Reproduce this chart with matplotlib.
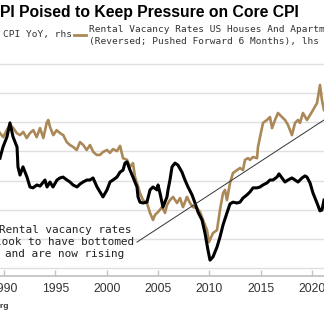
import matplotlib
matplotlib.use("Agg")
import matplotlib.pyplot as plt

# Rental vacancy rate, % (reversed, pushed forward 6 months) -- left axis
vac_years = [1989.61, 1989.93, 1990.26, 1990.59, 1990.91, 1991.24, 1991.56, 1991.88,
             1992.21, 1992.53, 1992.85, 1993.18, 1993.51, 1993.83, 1994.16, 1994.31,
             1994.48, 1994.80, 1995.13, 1995.45, 1995.77, 1996.11, 1996.43, 1996.75,
             1997.08, 1997.40, 1997.72, 1998.05, 1998.37, 1998.70, 1999.03, 1999.35,
             1999.64, 2000.03, 2000.32, 2000.61, 2001.00, 2001.30, 2001.59, 2001.98,
             2002.27, 2002.56, 2002.76, 2002.95, 2003.24, 2003.54, 2003.92, 2004.22,
             2004.51, 2004.70, 2005.00, 2005.39, 2005.68, 2005.87, 2006.16, 2006.46,
             2006.85, 2007.14, 2007.43, 2007.82, 2008.11, 2008.40, 2008.79, 2009.09,
             2009.38, 2009.77, 2009.96, 2010.35, 2010.74, 2011.03, 2011.33, 2011.52,
             2011.71, 2012.01, 2012.30, 2012.69, 2012.98, 2013.27, 2013.47, 2013.76,
             2013.95, 2014.25, 2014.64, 2014.73, 2014.93, 2015.22, 2015.61, 2015.90,
             2016.10, 2016.39, 2016.68, 2017.07, 2017.36, 2017.65, 2018.04, 2018.34,
             2018.63, 2018.82, 2019.11, 2019.50, 2019.80, 2020.09, 2020.48, 2020.77,
             2020.96, 2021.16]
vac_rate = [7.37, 7.51, 7.27, 7.09, 7.20, 7.37, 7.44, 7.33,
            7.54, 7.37, 7.27, 7.51, 7.20, 7.54, 7.02, 6.92,
            7.16, 7.44, 7.27, 7.37, 7.44, 7.68, 7.78, 7.85,
            7.95, 7.68, 7.78, 7.95, 7.78, 8.02, 8.12, 8.12,
            8.02, 7.95, 8.05, 7.92, 7.99, 7.81, 8.23, 8.29,
            8.53, 8.40, 8.88, 9.08, 9.43, 9.67, 9.77, 10.11,
            10.35, 10.18, 10.08, 9.91, 10.11, 9.84, 9.67, 9.56,
            9.77, 9.60, 9.91, 9.56, 9.77, 9.91, 9.94, 10.08,
            10.35, 10.70, 11.11, 10.80, 10.70, 10.01, 9.43, 9.32,
            9.67, 9.08, 8.74, 8.64, 8.57, 8.64, 8.29, 8.23,
            8.29, 8.19, 8.23, 7.85, 7.51, 7.02, 6.92, 6.82,
            7.20, 6.92, 6.68, 6.82, 6.92, 7.09, 7.44, 7.02,
            6.92, 7.02, 6.68, 6.92, 6.75, 6.58, 6.34, 5.72,
            6.24, 6.58]

# CPI year-over-year, % -- right axis
cpi_years = [1989.61, 1989.90, 1990.29, 1990.58, 1990.88, 1991.27, 1991.36, 1991.56,
             1991.85, 1992.24, 1992.53, 1992.82, 1993.21, 1993.51, 1993.99, 1994.19,
             1994.48, 1994.77, 1995.16, 1995.45, 1995.75, 1996.13, 1996.43, 1996.72,
             1997.11, 1997.40, 1997.69, 1998.08, 1998.37, 1998.67, 1999.06, 1999.35,
             1999.64, 2000.03, 2000.32, 2000.61, 2001.00, 2001.30, 2001.59, 2001.78,
             2001.98, 2002.27, 2002.56, 2002.95, 2003.05, 2003.24, 2003.54, 2003.92,
             2004.22, 2004.51, 2004.90, 2005.00, 2005.19, 2005.48, 2005.87, 2005.97,
             2006.16, 2006.36, 2006.65, 2006.94, 2007.33, 2007.62, 2007.92, 2008.31,
             2008.60, 2008.89, 2009.28, 2009.57, 2009.86, 2010.06, 2010.35, 2010.74,
             2011.03, 2011.33, 2011.71, 2012.01, 2012.30, 2012.69, 2012.98, 2013.27,
             2013.66, 2013.95, 2014.25, 2014.64, 2014.93, 2015.22, 2015.61, 2015.90,
             2016.19, 2016.58, 2016.78, 2017.07, 2017.36, 2017.65, 2018.04, 2018.34,
             2018.63, 2019.02, 2019.31, 2019.50, 2019.80, 2020.09, 2020.48, 2020.77,
             2020.96, 2021.16]
cpi_yoy = [3.77, 4.15, 4.50, 4.98, 4.50, 4.15, 3.47, 3.19,
           3.47, 3.12, 2.78, 2.75, 2.85, 2.81, 3.02, 2.78,
           2.95, 2.78, 3.02, 3.09, 3.12, 3.02, 2.95, 2.85,
           2.78, 2.88, 2.95, 3.02, 3.02, 3.09, 2.78, 2.61,
           2.44, 2.68, 2.95, 3.02, 3.12, 3.29, 3.36, 3.60,
           3.64, 3.36, 3.12, 2.78, 2.44, 2.26, 2.23, 2.26,
           2.68, 2.78, 2.68, 2.85, 2.57, 2.09, 2.44, 2.68,
           3.02, 3.47, 3.60, 3.53, 3.29, 3.02, 2.78, 2.51,
           2.23, 1.92, 1.65, 1.20, 0.62, 0.27, 0.38, 0.72,
           1.06, 1.48, 1.89, 2.20, 2.26, 2.23, 2.26, 2.40,
           2.51, 2.61, 2.75, 2.75, 2.78, 2.85, 2.92, 3.02,
           3.02, 3.12, 3.23, 3.09, 2.95, 3.02, 3.09, 3.02,
           2.95, 3.09, 3.16, 3.12, 2.92, 2.57, 2.23, 1.96,
           1.99, 2.33]

year_ticks = [1990, 1995, 2000, 2005, 2010, 2015, 2020]
year_labels = ["1990", "1995", "2000", "2005", "2010", "2015", "2020"]

TAN = "#ab8858"
GRID = "#e0e0e0"
AXIS = "#c4c4c4"

W, H = 324, 323
fig = plt.figure(figsize=(W / 100, H / 100), dpi=100)
fig.patch.set_facecolor("white")

ax_top_px, ax_bot_px = 62, 276
ax = fig.add_axes([0, 1 - ax_bot_px / H, 1, (ax_bot_px - ax_top_px) / H])
ax2 = ax.twinx()

# vacancy (left, inverted) carries the gridlines
ax.plot(vac_years, vac_rate, color=TAN, lw=1.9, solid_joinstyle="round", zorder=3)
ax.set_ylim(12.2745, 4.931)
ax.set_yticks(range(5, 13))
ax.yaxis.grid(True, color=GRID, lw=1.0)
ax.set_axisbelow(True)

# CPI (right)
ax2.plot(cpi_years, cpi_yoy, color="black", lw=2.2, solid_joinstyle="round", zorder=4)
ax2.set_ylim(-0.2745, 7.069)
ax2.set_yticks([])

ax.set_xlim(1989.611, 2021.16)
ax.set_xticks(year_ticks)
ax.set_xticklabels(year_labels, fontfamily="Liberation Sans", fontsize=8.7, color="#333333")
ax.tick_params(axis="x", direction="in", length=4, width=1, color=AXIS, pad=5)
ax.tick_params(axis="y", length=0, labelleft=False, labelright=False)
ax2.tick_params(axis="y", length=0, labelleft=False, labelright=False)

for a in (ax, ax2):
    for side in ("top", "left", "right"):
        a.spines[side].set_visible(False)
    a.patch.set_visible(False)
ax.spines["bottom"].set_color(AXIS)
ax.spines["bottom"].set_linewidth(1.3)
ax2.spines["bottom"].set_visible(False)

# annotation
note_x, note_y = 1995.94, 0.89
ax2.text(note_x, note_y, "Rental vacancy rates\nlook to have bottomed\nand are now rising",
         fontfamily="DejaVu Sans Mono", fontsize=7.9, color="#222222",
         ha="center", va="center", multialignment="center", linespacing=1.27, zorder=5)
arrow_start = (2002.95, 0.89)
arrow_end = (2021.6, 5.18)
ax2.plot([arrow_start[0], arrow_end[0]], [arrow_start[1], arrow_end[1]],
         color="#333333", lw=0.7, zorder=5)

# title, legend, source
fig.text(0 / W, 1 - 12 / H, "PI Poised to Keep Pressure on Core CPI",
         fontfamily="Liberation Sans", fontweight="bold", fontsize=11.3,
         ha="left", va="center", color="black")

leg_font = dict(fontfamily="DejaVu Sans Mono", fontsize=6.8, color="#333333")
fig.text(3 / W, 1 - 34 / H, "CPI YoY, rhs", ha="left", va="center", **leg_font)
fig.add_artist(plt.Line2D([74 / W, 86 / W], [1 - 34.5 / H, 1 - 34.5 / H],
                          color=TAN, lw=2.0, transform=fig.transFigure))
fig.text(89 / W, 1 - 35.5 / H,
         "Rental Vacancy Rates US Houses And Apartments\n(Reversed; Pushed Forward 6 Months), lhs",
         ha="left", va="center", linespacing=1.35, **leg_font)

fig.text(9 / W, 1 - 307 / H, "Source: Bloomberg", fontfamily="Liberation Sans",
         fontweight="bold", fontsize=6, ha="right", va="center", color="#333333")

fig.savefig("out.png", dpi=100, facecolor="white")
